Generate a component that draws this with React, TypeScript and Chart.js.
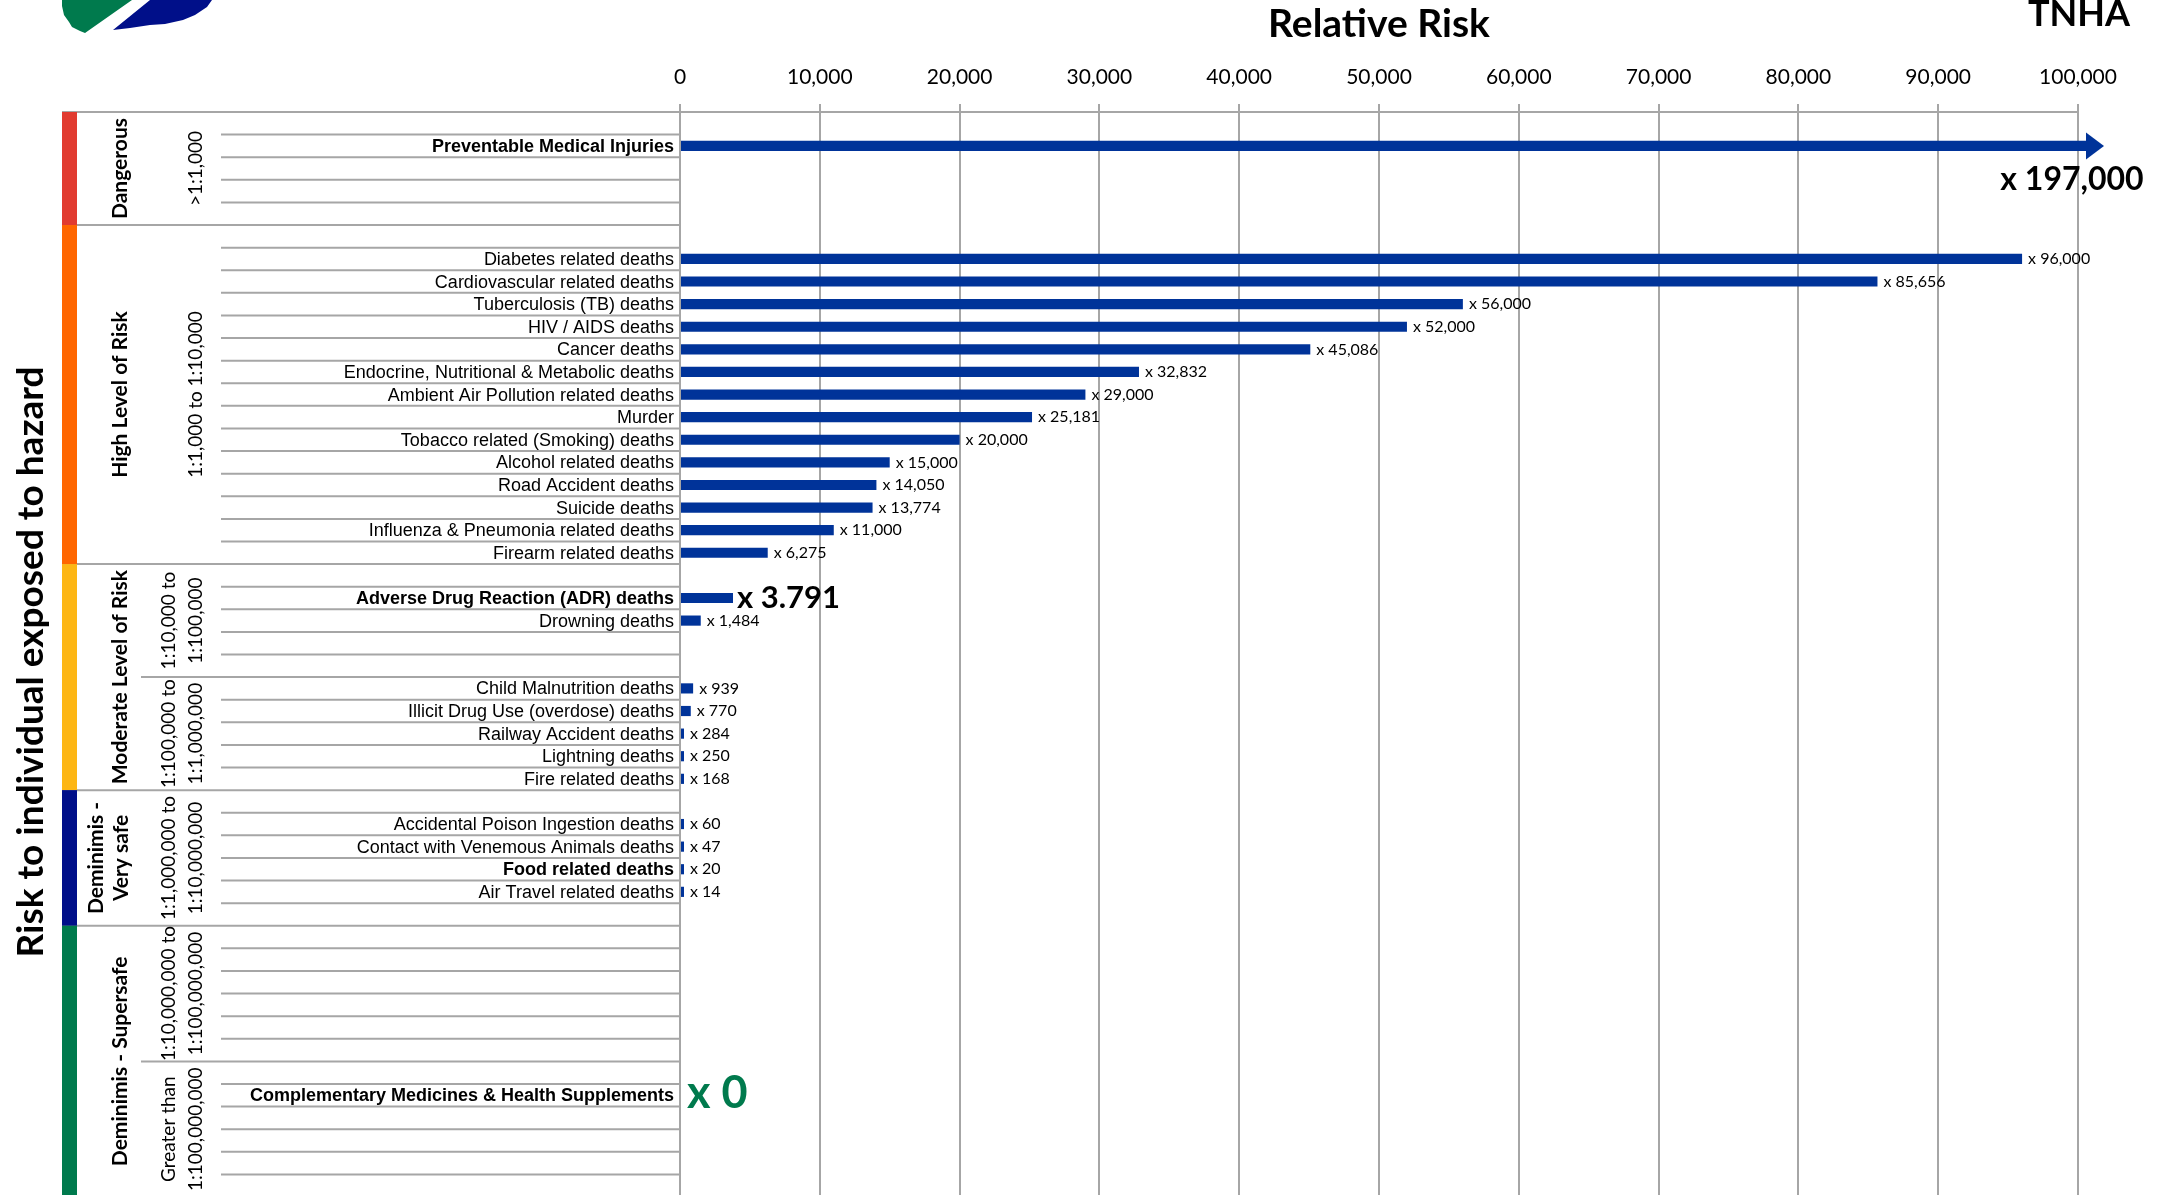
import React, { useEffect, useRef } from "react";
import { Chart, registerables } from "chart.js";

Chart.register(...registerables);

// ---------- data ----------
const categories: string[] = [
  "", "Preventable Medical Injuries", "", "", "",
  "", "Diabetes related deaths", "Cardiovascular related deaths", "Tuberculosis (TB) deaths", "HIV / AIDS deaths",
  "Cancer deaths", "Endocrine, Nutritional & Metabolic deaths", "Ambient Air Pollution related deaths", "Murder",
  "Tobacco related (Smoking) deaths", "Alcohol related deaths", "Road Accident deaths", "Suicide deaths",
  "Influenza & Pneumonia related deaths", "Firearm related deaths",
  "", "Adverse Drug Reaction (ADR) deaths", "Drowning deaths", "", "",
  "Child Malnutrition deaths", "Illicit Drug Use (overdose) deaths", "Railway Accident deaths", "Lightning deaths", "Fire related deaths",
  "", "Accidental Poison Ingestion deaths", "Contact with Venemous Animals deaths", "Food related deaths", "Air Travel related deaths", "",
  "", "", "", "", "", "",
  "", "Complementary Medicines & Health Supplements", "", "", "", "",
];

const relativeRisk: (number | null)[] = [
  null, 197000, null, null, null,
  null, 96000, 85656, 56000, 52000, 45086, 32832, 29000, 25181, 20000, 15000, 14050, 13774, 11000, 6275,
  null, 3791, 1484, null, null,
  939, 770, 284, 250, 168,
  null, 60, 47, 20, 14, null,
  null, null, null, null, null, null,
  null, 0, null, null, null, null,
];

const valueLabels: string[] = [
  "", "x 197,000", "", "", "",
  "", "x 96,000", "x 85,656", "x 56,000", "x 52,000", "x 45,086", "x 32,832", "x 29,000", "x 25,181", "x 20,000",
  "x 15,000", "x 14,050", "x 13,774", "x 11,000", "x 6,275",
  "", "x 3.791", "x 1,484", "", "",
  "x 939", "x 770", "x 284", "x 250", "x 168",
  "", "x 60", "x 47", "x 20", "x 14", "",
  "", "", "", "", "", "",
  "", "x 0", "", "", "", "",
];

const boldCategories: string[] = [
  "Preventable Medical Injuries",
  "Adverse Drug Reaction (ADR) deaths",
  "Food related deaths",
  "Complementary Medicines & Health Supplements",
];
const headlineCategories: string[] = [
  "Adverse Drug Reaction (ADR) deaths",
  "Complementary Medicines & Health Supplements",
];

const riskGroups: string[] = ["Dangerous", "High Level of Risk", "Moderate Level of Risk", "Deminimis -\nVery safe", "Deminimis - Supersafe"];
const riskGroupRows: number[] = [5, 15, 10, 6, 12];
const riskGroupColors: string[] = ["#e13b30", "#ff6600", "#fdb614", "#000f89", "#007a4d"];

const riskRanges: string[] = [
  ">1:1,000", "1:1,000 to 1:10,000", "1:10,000 to\n1:100,000", "1:100,000 to\n1:1,000,000",
  "1:1,000,000 to\n1:10,000,000", "1:10,000,000 to\n1:100,000,000", "Greater than\n1:100,000,000",
];
const riskRangeRows: number[] = [5, 15, 5, 5, 6, 6, 6];

const xMin = 0;
const xMax = 100000;
const xStep = 10000;

const chartTitle = "Relative Risk";
const sideTitle = "Risk to individual exposed to hazard";
const cornerText = "TNHA";

// ---------- styles ----------
const CAL = "Lato, 'Open Sans', sans-serif";
const ARIAL = "'Liberation Sans', Arial, sans-serif";
const BAR_BLUE = "#003399";
const GRID = "#a6a6a6";
const GREEN = "#007a4d";

function drawRotated(ctx: CanvasRenderingContext2D, text: string, x: number, y: number, font: string, color: string, baseline: CanvasTextBaseline = "middle") {
  ctx.save();
  ctx.translate(x, y);
  ctx.rotate(-Math.PI / 2);
  ctx.font = font;
  ctx.fillStyle = color;
  ctx.textAlign = "center";
  ctx.textBaseline = baseline;
  ctx.fillText(text, 0, 0);
  ctx.restore();
}

const overlayPlugin = {
  id: "riskOverlay",
  afterDraw(chart: any) {
    const { ctx, chartArea } = chart;
    const xs = chart.scales.x;
    const ys = chart.scales.y;
    const rowH = ys.getPixelForValue(1) - ys.getPixelForValue(0);
    const edge = (k: number) => ys.getPixelForValue(0) - rowH / 2 + k * rowH;

    ctx.save();

    // logo
    ctx.fillStyle = GREEN;
    ctx.beginPath();
    [[62, 0], [132, 0], [85, 33], [80, 31], [72, 27], [69, 22], [64, 15], [62, 6]].forEach(([px, py], i) =>
      i ? ctx.lineTo(px, py) : ctx.moveTo(px, py));
    ctx.closePath();
    ctx.fill();
    ctx.fillStyle = "#000f89";
    ctx.beginPath();
    [[150, 0], [212, 0], [207, 7], [195, 15], [183, 20], [165, 24], [150, 25], [130, 28], [113, 30]].forEach(([px, py], i) =>
      i ? ctx.lineTo(px, py) : ctx.moveTo(px, py));
    ctx.closePath();
    ctx.fill();

    // titles
    ctx.fillStyle = "#000";
    ctx.font = `bold 39px ${CAL}`;
    ctx.textAlign = "center";
    ctx.textBaseline = "alphabetic";
    ctx.fillText(chartTitle, (chartArea.left + chartArea.right) / 2, 37);
    ctx.font = `bold 36px ${CAL}`;
    ctx.textAlign = "right";
    ctx.fillText(cornerText, 2130, 26);
    drawRotated(ctx, sideTitle, 43, 662, `bold 37px ${CAL}`, "#000", "alphabetic");

    // row lines in the label area
    const groupEdges = new Set<number>();
    let acc = 0;
    riskGroupRows.forEach((n) => { groupEdges.add(acc); acc += n; });
    const rangeEdges = new Set<number>();
    acc = 0;
    riskRangeRows.forEach((n) => { rangeEdges.add(acc); acc += n; });
    ctx.strokeStyle = GRID;
    ctx.lineWidth = 2;
    for (let k = 0; k < categories.length; k++) {
      const x0 = groupEdges.has(k) ? 62 : rangeEdges.has(k) ? 141 : 221;
      const y = edge(k);
      ctx.beginPath();
      ctx.moveTo(x0, y);
      ctx.lineTo(chartArea.left, y);
      ctx.stroke();
    }

    // colour bars and group labels
    acc = 0;
    riskGroups.forEach((g, i) => {
      const y0 = edge(acc);
      const y1 = edge(acc + riskGroupRows[i]);
      ctx.fillStyle = riskGroupColors[i];
      ctx.fillRect(62, y0, 15, y1 - y0);
      const lines = g.split("\n");
      const cy = (y0 + y1) / 2;
      if (lines.length === 1) {
        drawRotated(ctx, lines[0], 120, cy, `bold 21px ${CAL}`, "#000");
      } else {
        drawRotated(ctx, lines[0], 96, cy, `bold 21px ${CAL}`, "#000");
        drawRotated(ctx, lines[1], 121, cy, `bold 21px ${CAL}`, "#000");
      }
      acc += riskGroupRows[i];
    });

    // range labels
    acc = 0;
    riskRanges.forEach((r, i) => {
      const y0 = edge(acc);
      const y1 = edge(acc + riskRangeRows[i]);
      const cy = (y0 + y1) / 2;
      const lines = r.split("\n");
      if (lines.length === 1) {
        drawRotated(ctx, lines[0], 196, cy, `19px ${CAL}`, "#000");
      } else {
        drawRotated(ctx, lines[0], 169, cy, `19px ${CAL}`, "#000");
        drawRotated(ctx, lines[1], 196, cy, `19px ${CAL}`, "#000");
      }
      acc += riskRangeRows[i];
    });

    // category labels
    ctx.textAlign = "right";
    ctx.textBaseline = "middle";
    ctx.fillStyle = "#000";
    categories.forEach((c, i) => {
      if (!c) return;
      ctx.font = `${boldCategories.includes(c) ? "bold " : ""}18px ${ARIAL}`;
      ctx.fillText(c, chartArea.left - 6, ys.getPixelForValue(i) + 1);
    });

    // value labels
    const meta = chart.getDatasetMeta(0);
    ctx.textAlign = "left";
    ctx.textBaseline = "middle";
    relativeRisk.forEach((v, i) => {
      const txt = valueLabels[i];
      if (v === null || !txt) return;
      const el: any = meta.data[i];
      const cy = el.y;
      if (v > xs.max) {
        const bx = chartArea.right + 8;
        ctx.fillStyle = BAR_BLUE;
        ctx.beginPath();
        ctx.moveTo(bx, cy - 13.5);
        ctx.lineTo(bx + 18, cy);
        ctx.lineTo(bx, cy + 13.5);
        ctx.closePath();
        ctx.fill();
        ctx.fillStyle = "#000";
        ctx.font = `bold 32px ${CAL}`;
        ctx.textAlign = "center";
        ctx.fillText(txt, chartArea.right - 6, cy + 34);
        ctx.textAlign = "left";
      } else if (v === 0) {
        ctx.fillStyle = GREEN;
        ctx.font = `bold 45px ${CAL}`;
        ctx.fillText(txt, xs.getPixelForValue(0) + 7, cy - 2);
      } else if (headlineCategories.includes(categories[i])) {
        ctx.fillStyle = "#000";
        ctx.font = `bold 31px ${CAL}`;
        ctx.fillText(txt, el.x + 4, cy);
      } else {
        ctx.fillStyle = "#000";
        ctx.font = `16px ${CAL}`;
        ctx.fillText(txt, el.x + 6, cy);
      }
    });

    ctx.restore();
  },
};

export default function App() {
  const canvasRef = useRef<HTMLCanvasElement | null>(null);

  useEffect(() => {
    const canvas = canvasRef.current;
    if (!canvas) return;
    const chart = new Chart(canvas, {
      type: "bar",
      data: {
        labels: categories,
        datasets: [
          {
            data: relativeRisk as any,
            backgroundColor: (c: any) => (c.raw === 0 ? "rgba(0,0,0,0)" : BAR_BLUE),
            categoryPercentage: 1,
            barPercentage: 0.45,
            minBarLength: 4,
            clip: { left: 0, right: 8, top: false, bottom: false } as any,
          },
        ],
      },
      options: {
        indexAxis: "y",
        responsive: false,
        animation: false,
        events: [],
        layout: { padding: { left: 0, right: 92, top: 0, bottom: 0 } },
        plugins: {
          legend: { display: false },
          tooltip: { enabled: false },
          title: { display: false },
        },
        scales: {
          x: {
            type: "linear",
            position: "top",
            min: xMin,
            max: xMax,
            ticks: {
              stepSize: xStep,
              color: "#000",
              font: { family: CAL, size: 21 },
              padding: 14,
              callback: (v: any) => Number(v).toLocaleString("en-US"),
            },
            grid: { color: GRID, lineWidth: 2, tickLength: 8, drawTicks: true },
            border: { color: GRID, width: 2 },
            afterFit: (s: any) => { s.height = 112; },
          },
          y: {
            type: "category",
            position: "left",
            ticks: { display: false },
            grid: { display: false, drawTicks: false },
            border: { display: true, color: GRID, width: 2 },
            afterFit: (s: any) => { s.width = 680; },
          },
        },
      } as any,
      plugins: [overlayPlugin],
    });
    return () => chart.destroy();
  }, []);

  return (
    <div style={{ position: "fixed", left: 0, top: 0, width: 2170, height: 1197, background: "#fff" }}>
      <canvas ref={canvasRef} width={2170} height={1197} style={{ display: "block" }} />
    </div>
  );
}
